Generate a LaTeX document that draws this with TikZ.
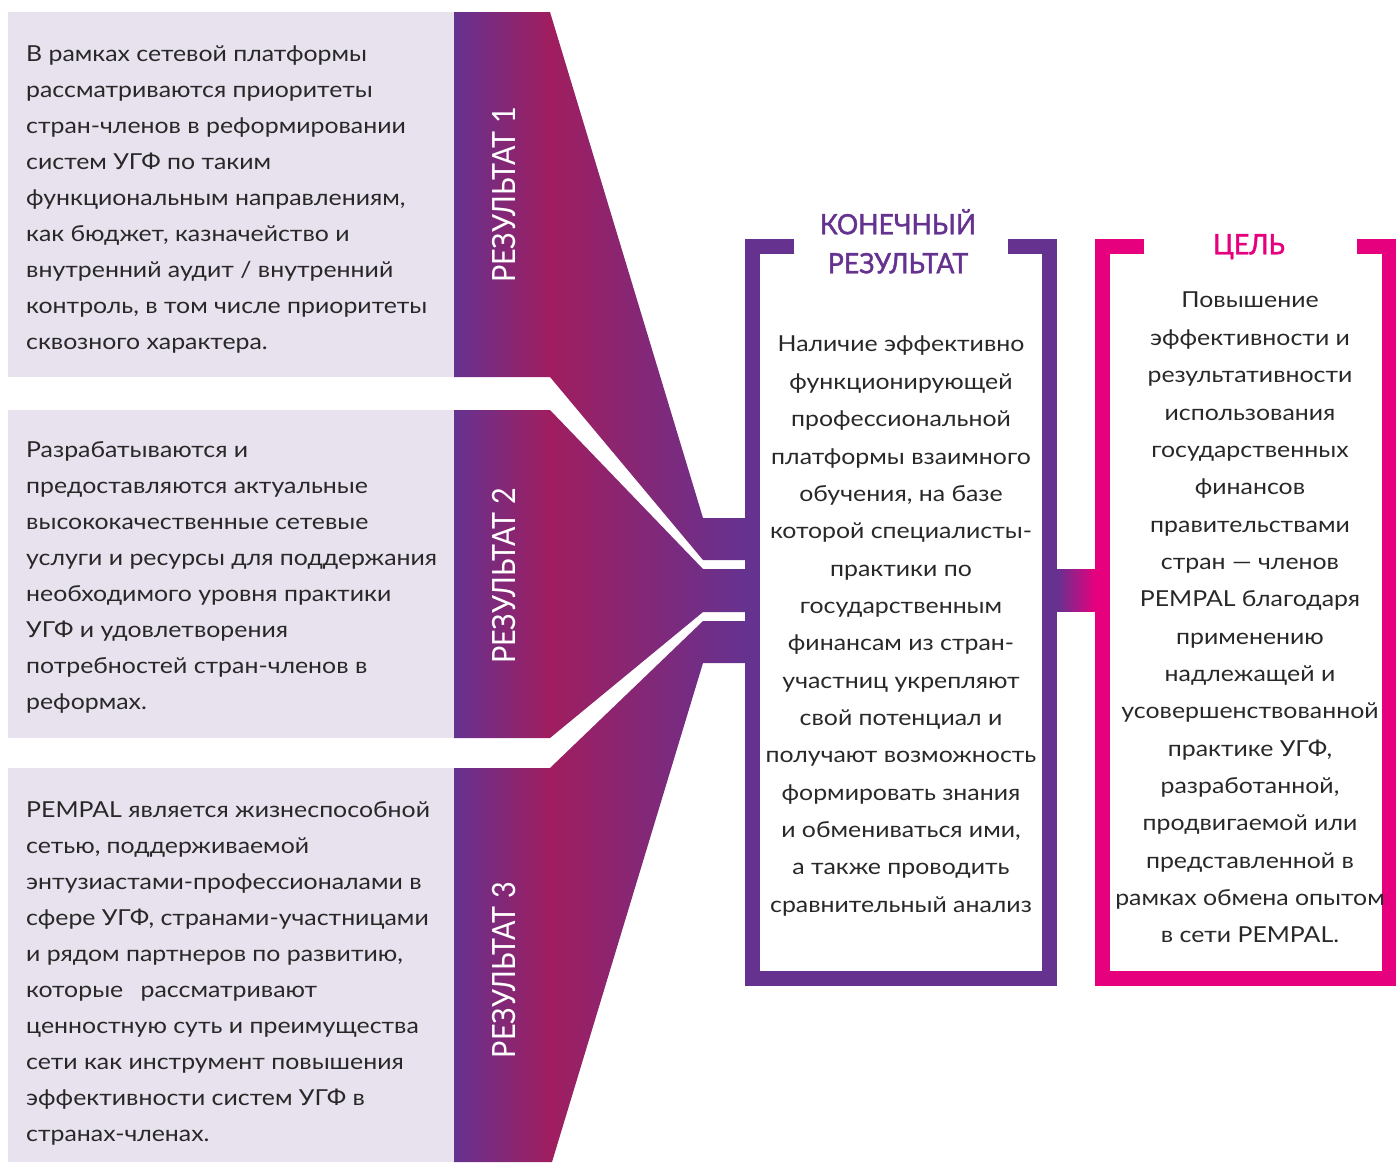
\documentclass[tikz,border=0pt]{standalone}
\usepackage{fontspec}
\setmainfont{Lato}[FakeStretch=1.13]
\newfontfamily\condfont[FakeStretch=0.9]{Lato}
\newfontfamily\headfont[FakeStretch=0.95,FakeBold=1.5]{Lato}
\definecolor{resviolet}{RGB}{101,50,144}
\definecolor{rescrimson}{RGB}{160,30,95}
\definecolor{respink}{RGB}{230,0,126}
\definecolor{reslav}{RGB}{232,225,238}
\definecolor{restxt}{RGB}{40,40,40}
\pgfdeclarehorizontalshading{resfan}{100bp}{color(0bp)=(resviolet); color(25bp)=(resviolet); color(41.4bp)=(rescrimson); color(75bp)=(resviolet); color(100bp)=(resviolet)}

\begin{document}
\begin{tikzpicture}[x=1pt,y=-1pt,
	restext/.style={inner sep=0pt,text=restxt,font=\fontsize{22}{36}\selectfont,align=left,anchor=north west},
	aimtext/.style={inner sep=0pt,text=restxt,font=\fontsize{22}{37.35}\selectfont,align=center,anchor=north},
	reslabel/.style={inner sep=0pt,text=white,font=\condfont\fontsize{32}{32}\selectfont,rotate=90,anchor=base},
	headtext/.style={inner sep=0pt,font=\headfont\fontsize{28}{39}\selectfont,align=center,anchor=north}]
	\useasboundingbox (0,0) rectangle (1396,1162);
	\foreach \ya/\yb in {12/377,410/738,768/1162}
	\fill[reslav] (8,\ya) rectangle (454,\yb);
	\shade[shading=resfan] (454,12) -- (550,12) -- (703,518) -- (746,518) -- (746,560) -- (703,560) -- (550,377) -- (454,377) -- cycle;
	\shade[shading=resfan] (454,410) -- (550,410) -- (703,569) -- (746,569) -- (746,612) -- (703,612) -- (550,738) -- (454,738) -- cycle;
	\shade[shading=resfan] (454,768) -- (550,768) -- (703,621) -- (746,621) -- (746,663) -- (703,663) -- (552,1162) -- (454,1162) -- cycle;
	\foreach \n/\y in {1/195,2/576,3/970}
	\node[reslabel] (label\n) at (515,\y) {РЕЗУЛЬТАТ \n};
	\draw[resviolet,line width=15pt] (794,246.5) -- (752.5,246.5) -- (752.5,978.5) -- (1049.5,978.5) -- (1049.5,246.5) -- (1008,246.5);
	\draw[respink,line width=15pt] (1144,246.5) -- (1102.5,246.5) -- (1102.5,978.5) -- (1389.5,978.5) -- (1389.5,246.5) -- (1357,246.5);
	\shade[left color=resviolet,right color=respink] (1057,569) rectangle (1095,611);
	\node[headtext,text=resviolet] (headres) at (898,209) {КОНЕЧНЫЙ\\РЕЗУЛЬТАТ};
	\node[headtext,text=respink] (headaim) at (1249,234) {ЦЕЛЬ};
	\node[restext] (text1) at (26,46) {В рамках сетевой платформы\\рассматриваются приоритеты\\стран-членов в реформировании\\систем УГФ по таким\\функциональным направлениям,\\как бюджет, казначейство и\\внутренний аудит / внутренний\\контроль, в том числе приоритеты\\сквозного характера.};
	\node[restext] (text2) at (26,441) {Разрабатываются и\\предоставляются актуальные\\высококачественные сетевые\\услуги и ресурсы для поддержания\\необходимого уровня практики\\УГФ и удовлетворения\\потребностей стран-членов в\\реформах.};
	\node[restext] (text3) at (26,801) {PEMPAL является жизнеспособной\\сетью, поддерживаемой\\энтузиастами-профессионалами в\\сфере УГФ, странами-участницами\\и рядом партнеров по развитию,\\которые \hspace{0.5em}рассматривают\\ценностную суть и преимущества\\сети как инструмент повышения\\эффективности систем УГФ в\\странах-членах.};
	\node[aimtext] (textres) at (901,336) {Наличие эффективно\\функционирующей\\профессиональной\\платформы взаимного\\обучения, на базе\\которой специалисты-\\практики по\\государственным\\финансам из стран-\\участниц укрепляют\\свой потенциал и\\получают возможность\\формировать знания\\и обмениваться ими,\\а также проводить\\сравнительный анализ};
	\node[aimtext] (textaim) at (1250,292) {Повышение\\эффективности и\\результативности\\использования\\государственных\\финансов\\правительствами\\стран — членов\\PEMPAL благодаря\\применению\\надлежащей и\\усовершенствованной\\практике УГФ,\\разработанной,\\продвигаемой или\\представленной в\\рамках обмена опытом\\в сети PEMPAL.};
\end{tikzpicture}
\end{document}
